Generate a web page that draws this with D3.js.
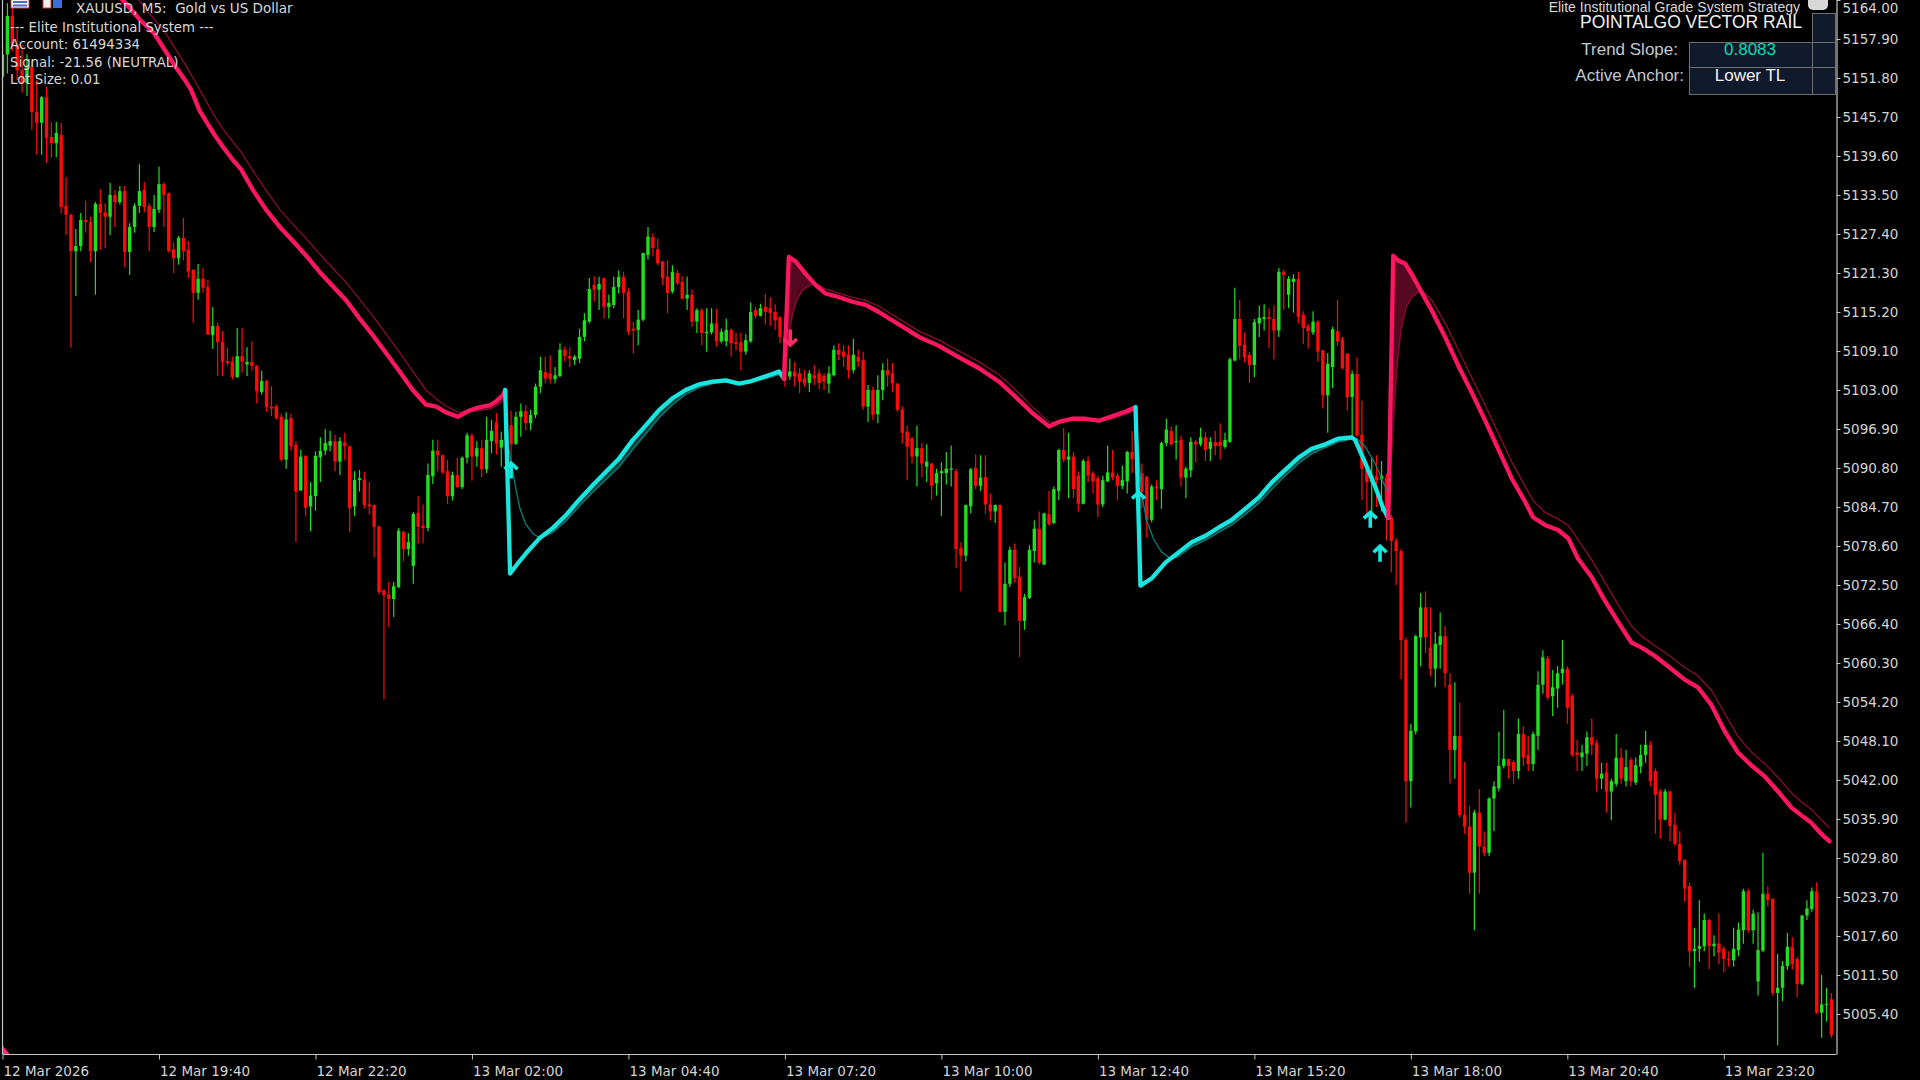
<!DOCTYPE html>
<html><head><meta charset="utf-8">
<script src="https://cdn.jsdelivr.net/npm/d3@7"></script>
<style>html,body{margin:0;padding:0;background:#000;overflow:hidden}text{white-space:pre}</style>
</head><body><svg id="chart" width="1920" height="1080"></svg>
<script>
// ---------------- DATA ----------------
const opens=[5152.0,5155.5,5161.5,5157.0,5153.0,5151.0,5153.5,5146.5,5144.8,5148.8,
5142.6,5141.6,5142.9,5131.8,5130.4,5124.7,5125.5,5129.6,5129.3,5124.7,
5132.1,5130.8,5130.1,5133.5,5132.4,5134.1,5124.6,5128.5,5131.8,5134.3,
5131.8,5128.5,5131.2,5135.2,5133.8,5125.0,5123.6,5126.8,5124.9,5121.8,
5118.2,5120.4,5119.1,5111.6,5113.0,5110.5,5107.5,5107.4,5105.0,5108.3,
5107.0,5107.4,5106.8,5102.7,5104.4,5100.4,5100.4,5098.8,5092.1,5098.6,
5094.4,5087.3,5092.7,5084.8,5086.4,5092.5,5093.5,5094.3,5095.0,5091.8,
5094.8,5094.2,5084.8,5088.9,5088.9,5085.1,5085.0,5081.6,5071.7,5071.0,
5070.3,5072.2,5080.8,5078.1,5075.5,5083.8,5081.8,5081.4,5089.5,5093.5,
5092.8,5090.3,5086.4,5089.7,5087.8,5092.4,5095.9,5092.6,5093.9,5090.6,
5095.0,5097.9,5094.0,5095.2,5097.5,5094.6,5098.8,5099.7,5097.8,5099.1,
5103.5,5105.8,5105.6,5104.7,5105.2,5109.3,5108.3,5107.7,5107.9,5111.3,
5113.7,5119.4,5118.7,5120.5,5116.0,5116.3,5119.1,5120.7,5118.4,5112.6,
5112.4,5114.0,5124.1,5126.9,5125.0,5123.1,5120.7,5118.4,5121.3,5119.9,
5117.3,5117.9,5113.7,5115.5,5111.9,5112.0,5113.4,5110.6,5110.6,5112.4,
5110.5,5110.5,5109.0,5110.6,5115.5,5114.6,5116.0,5115.8,5115.2,5114.4,
5111.3,5105.1,5105.9,5105.6,5104.8,5104.1,5105.3,5105.6,5105.2,5104.0,
5105.3,5109.3,5109.0,5108.5,5106.1,5108.2,5107.7,5100.4,5103.0,5099.2,
5103.0,5106.1,5105.6,5104.0,5099.9,5096.5,5095.4,5092.6,5093.9,5091.0,
5091.5,5088.4,5090.0,5090.0,5090.5,5090.3,5078.3,5077.1,5084.8,5090.8,
5088.0,5089.4,5085.1,5084.0,5085.0,5068.3,5072.7,5078.0,5073.8,5066.9,
5070.5,5077.8,5081.3,5075.7,5083.6,5082.2,5087.2,5093.6,5092.1,5092.6,
5089.6,5085.2,5091.9,5090.0,5089.2,5085.1,5088.7,5090.1,5089.6,5088.0,
5088.7,5093.3,5093.1,5090.0,5089.4,5082.7,5087.9,5087.5,5094.7,5096.6,
5094.8,5095.2,5089.3,5090.4,5094.9,5094.5,5095.6,5093.8,5094.8,5094.9,
5094.1,5094.9,5107.6,5114.1,5110.1,5108.5,5106.9,5113.4,5114.1,5114.4,
5114.1,5112.3,5121.5,5117.9,5119.9,5120.4,5114.8,5113.0,5112.0,5113.7,
5109.2,5102.2,5106.6,5112.2,5110.9,5108.7,5101.9,5105.5,5096.0,5090.5,
5088.6,5089.6,5089.0,5089.3,5083.1,5079.4,5077.8,5063.9,5041.8,5049.6,
5064.3,5069.0,5062.7,5059.4,5063.1,5064.5,5056.9,5046.7,5048.9,5036.6,
5034.7,5027.5,5036.9,5031.6,5030.6,5039.1,5040.7,5044.2,5045.3,5044.8,
5043.4,5049.2,5045.9,5044.5,5048.9,5056.9,5061.0,5055.1,5056.3,5058.7,
5059.4,5055.1,5046.3,5045.6,5046.1,5048.7,5047.8,5042.2,5043.2,5040.2,
5041.4,5045.5,5041.8,5045.1,5041.6,5044.1,5045.9,5047.5,5043.4,5040.2,
5035.8,5040.2,5035.0,5032.0,5029.5,5025.4,5015.2,5015.6,5016.0,5020.1,
5016.0,5016.4,5015.6,5014.0,5013.8,5015.4,5018.5,5024.6,5018.5,5010.5,
5015.3,5024.2,5023.4,5008.7,5009.5,5012.9,5015.9,5014.0,5010.1,5020.8,
5021.8,5024.6,5005.6,5006.9,5007.7];
const highs=[5157.0,5163.5,5164.5,5159.5,5157.0,5155.5,5154.5,5151.5,5149.0,5150.4,
5144.9,5144.9,5144.8,5136.3,5130.6,5128.2,5130.7,5132.6,5130.1,5132.4,
5134.4,5132.2,5135.4,5134.3,5134.9,5134.9,5129.1,5132.2,5138.3,5135.5,
5132.2,5133.5,5137.9,5135.5,5133.9,5126.1,5127.1,5129.9,5126.3,5121.9,
5122.7,5122.1,5120.2,5116.0,5113.5,5112.2,5109.6,5108.2,5112.7,5112.7,
5109.7,5110.6,5106.9,5106.0,5104.6,5103.6,5100.7,5099.3,5099.5,5099.3,
5095.0,5093.7,5092.8,5088.6,5093.4,5095.6,5096.9,5096.6,5096.0,5095.6,
5096.3,5094.3,5090.3,5090.5,5090.2,5088.6,5085.1,5081.9,5071.8,5073.0,
5073.0,5081.4,5081.0,5080.6,5083.9,5086.4,5085.1,5091.5,5095.2,5095.2,
5092.9,5092.1,5090.2,5092.4,5092.6,5096.3,5096.2,5095.0,5095.2,5098.8,
5098.3,5099.4,5096.5,5103.0,5099.8,5099.6,5100.9,5100.6,5099.9,5104.0,
5108.2,5108.2,5108.4,5106.6,5110.3,5109.8,5109.7,5108.5,5112.6,5115.0,
5120.5,5120.8,5120.7,5120.6,5117.9,5120.7,5121.7,5121.5,5118.9,5113.7,
5115.5,5124.5,5128.5,5127.5,5126.7,5123.2,5123.3,5122.5,5121.8,5120.8,
5120.7,5118.7,5115.8,5115.8,5115.8,5115.8,5115.7,5112.6,5114.2,5112.6,
5111.9,5111.9,5111.7,5116.7,5116.0,5116.5,5118.0,5117.5,5116.4,5114.5,
5112.0,5107.9,5107.4,5106.4,5106.1,5106.1,5106.9,5106.2,5105.6,5106.7,
5110.0,5110.3,5110.0,5110.0,5111.0,5109.3,5109.0,5103.8,5103.5,5105.3,
5107.2,5107.9,5107.2,5104.1,5100.4,5097.4,5095.7,5097.4,5094.7,5094.5,
5091.6,5090.7,5091.7,5093.3,5094.3,5090.7,5079.2,5085.1,5090.8,5092.9,
5092.8,5092.8,5086.8,5085.1,5085.1,5076.0,5078.5,5079.0,5075.3,5071.1,
5078.7,5082.6,5084.0,5083.8,5087.2,5087.9,5093.8,5097.0,5096.3,5093.3,
5090.3,5092.2,5092.6,5090.3,5089.6,5089.6,5094.3,5093.6,5090.0,5091.2,
5093.5,5096.6,5096.6,5091.5,5089.6,5088.2,5088.9,5094.9,5098.5,5097.3,
5097.5,5095.9,5091.0,5095.6,5095.2,5097.1,5096.4,5095.6,5096.6,5097.8,
5096.3,5108.1,5119.0,5117.1,5112.0,5109.0,5114.1,5116.2,5116.4,5115.8,
5116.2,5122.1,5121.8,5120.8,5121.1,5121.5,5115.3,5113.4,5115.3,5113.9,
5109.3,5108.8,5112.9,5117.1,5111.3,5108.8,5106.0,5108.1,5101.3,5090.7,
5092.4,5092.8,5091.9,5089.9,5083.5,5079.8,5078.2,5064.3,5050.8,5064.7,
5071.2,5071.5,5069.0,5065.1,5068.2,5066.1,5058.7,5057.3,5054.1,5044.8,
5037.9,5037.3,5040.6,5034.0,5039.3,5041.8,5049.6,5053.0,5045.3,5045.1,
5051.6,5050.4,5048.9,5049.6,5059.0,5062.3,5061.4,5059.2,5059.8,5063.9,
5059.8,5055.5,5048.3,5047.5,5049.6,5051.6,5048.3,5044.7,5044.7,5042.2,
5049.2,5047.1,5046.7,5045.5,5045.5,5047.5,5049.7,5048.1,5043.8,5040.6,
5040.6,5040.3,5036.9,5034.0,5029.6,5025.9,5018.9,5023.2,5021.1,5020.3,
5017.7,5021.1,5016.0,5015.2,5018.9,5019.7,5025.0,5025.0,5021.7,5021.3,
5030.6,5025.4,5023.5,5014.8,5013.7,5018.1,5017.4,5014.4,5020.9,5023.2,
5025.2,5026.0,5011.5,5009.5,5008.7];
const lows=[5150.0,5152.5,5156.0,5151.5,5149.5,5149.0,5143.7,5139.8,5139.8,5138.5,
5139.3,5139.4,5130.7,5127.2,5109.6,5117.7,5124.7,5127.6,5123.0,5117.9,
5124.9,5125.2,5127.2,5128.5,5132.0,5122.2,5121.0,5127.6,5130.7,5130.8,
5124.7,5127.7,5130.7,5128.5,5124.5,5121.3,5122.6,5123.3,5120.5,5113.5,
5117.1,5118.2,5111.6,5109.4,5105.2,5105.2,5106.8,5104.6,5104.9,5105.7,
5105.2,5106.0,5100.9,5102.3,5099.6,5098.9,5098.4,5091.8,5090.7,5093.5,
5079.2,5087.2,5083.2,5080.9,5084.1,5088.6,5092.8,5093.4,5090.3,5089.7,
5092.0,5080.8,5083.3,5087.1,5084.5,5083.5,5076.8,5071.0,5054.6,5065.9,
5067.5,5072.0,5076.2,5077.1,5072.7,5079.0,5079.0,5080.9,5088.3,5090.3,
5089.9,5085.2,5085.7,5087.7,5087.5,5091.5,5088.8,5091.0,5089.4,5090.0,
5093.1,5092.9,5091.0,5091.8,5090.5,5094.4,5095.7,5096.7,5096.7,5098.6,
5102.5,5104.0,5104.0,5104.0,5105.0,5107.4,5106.6,5106.9,5107.2,5110.6,
5113.4,5116.8,5115.5,5114.2,5114.2,5115.8,5118.1,5114.2,5111.6,5108.7,
5110.0,5113.7,5123.4,5123.9,5122.5,5119.4,5115.0,5118.1,5119.4,5117.1,
5115.5,5112.9,5111.9,5110.0,5109.0,5111.7,5109.8,5110.3,5109.8,5108.2,
5109.2,5106.1,5108.5,5110.4,5114.2,5114.5,5113.2,5113.0,5112.4,5110.3,
5103.5,5104.6,5103.5,5102.5,5103.5,5102.7,5103.8,5103.1,5103.0,5102.5,
5105.1,5107.7,5106.6,5104.8,5105.6,5106.6,5099.9,5098.0,5098.3,5097.8,
5101.4,5103.5,5102.7,5099.6,5094.6,5088.9,5091.5,5087.9,5089.4,5088.6,
5085.8,5086.5,5083.3,5088.2,5087.9,5075.2,5071.5,5076.2,5083.7,5087.5,
5087.2,5083.7,5082.6,5082.2,5068.2,5066.2,5072.2,5072.9,5061.2,5065.5,
5070.3,5076.0,5075.7,5075.6,5081.8,5082.0,5085.8,5091.7,5086.1,5086.1,
5084.0,5085.1,5088.6,5086.8,5083.1,5084.7,5088.6,5088.9,5085.8,5087.5,
5086.8,5090.0,5088.9,5084.5,5079.9,5082.3,5085.8,5084.4,5094.2,5094.2,
5092.1,5087.9,5086.1,5089.3,5091.7,5094.2,5091.9,5091.9,5092.8,5092.1,
5093.8,5094.7,5107.5,5107.8,5107.3,5104.1,5105.0,5111.3,5112.3,5109.5,
5107.8,5111.3,5115.5,5115.8,5115.1,5113.4,5110.2,5109.5,5111.6,5107.4,
5100.1,5096.3,5103.3,5109.9,5106.2,5099.8,5095.6,5095.6,5085.8,5083.3,
5083.7,5084.7,5084.0,5079.5,5074.5,5072.5,5057.8,5035.3,5037.7,5049.1,
5059.8,5061.8,5058.2,5056.5,5059.4,5056.5,5041.4,5042.2,5036.1,5033.6,
5024.2,5018.5,5024.2,5030.1,5030.1,5034.0,5040.2,5043.8,5042.2,5041.4,
5042.2,5044.2,5043.4,5043.4,5046.7,5055.5,5054.5,5052.0,5053.3,5056.9,
5050.8,5045.6,5043.4,5043.4,5044.2,5045.9,5040.2,5040.6,5036.9,5035.7,
5041.0,5041.4,5041.0,5041.0,5041.2,5043.0,5044.7,5041.0,5033.6,5032.8,
5035.7,5032.4,5031.6,5028.7,5023.0,5012.8,5009.5,5013.6,5015.2,5012.4,
5014.4,5013.2,5011.9,5012.8,5012.8,5014.4,5016.4,5018.1,5016.4,5008.3,
5015.1,5022.2,5008.3,5000.5,5007.4,5012.3,5012.3,5008.0,5009.9,5020.1,
5021.4,5005.4,5001.7,5004.2,5001.7];
const closes=[5155.5,5161.5,5157.0,5153.0,5151.0,5153.5,5146.5,5144.8,5148.8,5142.4,
5141.6,5143.2,5131.6,5130.4,5124.7,5125.5,5129.6,5129.3,5124.7,5132.1,
5130.7,5130.1,5133.5,5132.4,5134.1,5124.6,5128.5,5131.8,5134.1,5131.6,
5128.5,5131.3,5135.2,5133.5,5124.7,5123.6,5126.8,5124.7,5121.5,5118.2,
5120.4,5119.0,5111.7,5113.0,5110.5,5107.4,5107.2,5105.0,5108.3,5107.4,
5107.4,5106.8,5102.8,5104.4,5100.3,5100.1,5098.6,5092.1,5098.4,5094.2,
5087.1,5092.6,5084.6,5086.5,5092.7,5093.5,5094.7,5095.0,5091.8,5095.0,
5094.2,5084.5,5088.9,5089.2,5085.0,5084.8,5081.6,5071.4,5070.9,5070.3,
5072.3,5081.0,5078.1,5079.2,5083.6,5081.6,5081.4,5089.7,5093.5,5092.8,
5090.1,5086.4,5089.7,5087.8,5092.4,5095.9,5092.6,5093.9,5090.6,5095.2,
5096.6,5094.6,5095.2,5098.0,5094.5,5098.8,5099.7,5097.8,5099.1,5103.5,
5106.1,5104.8,5104.7,5105.3,5109.3,5108.3,5107.9,5108.2,5111.3,5113.9,
5118.8,5118.7,5119.6,5116.0,5116.6,5119.1,5120.7,5118.2,5112.1,5112.3,
5114.0,5124.4,5127.0,5125.2,5122.8,5120.5,5118.2,5121.5,5119.7,5117.3,
5117.9,5113.7,5115.5,5111.9,5112.1,5113.4,5110.6,5112.1,5112.4,5110.3,
5110.2,5109.0,5110.8,5115.2,5114.6,5115.8,5115.2,5115.0,5113.9,5111.3,
5104.5,5105.9,5105.1,5104.3,5104.0,5105.6,5104.8,5104.1,5104.3,5105.6,
5109.3,5108.5,5108.2,5106.1,5108.5,5107.4,5100.4,5103.0,5099.1,5103.0,
5106.1,5105.3,5104.0,5099.9,5096.3,5094.1,5092.6,5093.9,5091.5,5091.8,
5088.0,5090.0,5090.3,5090.7,5090.7,5078.1,5077.1,5085.0,5090.6,5088.0,
5089.3,5085.1,5084.0,5085.0,5068.3,5072.7,5078.0,5073.6,5066.9,5070.6,
5078.0,5081.3,5076.0,5083.7,5082.0,5087.5,5093.6,5092.1,5092.6,5087.5,
5085.2,5091.9,5089.6,5088.7,5085.1,5088.9,5090.1,5089.3,5088.0,5088.9,
5093.3,5092.2,5090.0,5087.0,5082.7,5087.9,5087.6,5094.7,5096.8,5094.5,
5095.0,5089.3,5090.7,5094.9,5094.5,5095.6,5093.6,5094.9,5094.2,5094.2,
5095.2,5107.8,5114.1,5109.9,5108.1,5106.9,5113.6,5114.3,5114.4,5114.1,
5112.3,5121.5,5121.0,5120.4,5120.4,5114.4,5112.7,5112.2,5113.7,5109.0,
5102.2,5107.1,5112.5,5110.6,5106.4,5101.9,5105.5,5095.9,5090.7,5088.6,
5089.6,5088.9,5089.6,5083.0,5079.4,5077.8,5063.9,5041.8,5049.7,5064.5,
5069.0,5064.3,5059.4,5063.3,5064.5,5058.7,5046.7,5048.9,5036.5,5034.7,
5027.5,5036.9,5031.6,5030.6,5039.1,5041.0,5044.2,5045.3,5044.2,5043.4,
5049.2,5045.5,5044.5,5049.2,5056.9,5061.2,5054.9,5056.5,5058.7,5059.4,
5053.3,5045.9,5045.9,5046.3,5048.7,5047.5,5042.2,5043.0,5040.2,5041.8,
5045.5,5042.2,5044.0,5041.8,5044.3,5045.9,5047.5,5041.8,5039.7,5035.8,
5040.2,5034.8,5032.0,5029.3,5025.0,5015.2,5015.6,5016.0,5020.1,5016.0,
5016.4,5015.0,5014.0,5013.8,5015.6,5018.6,5024.6,5018.5,5021.1,5015.4,
5024.2,5023.2,5008.7,5009.5,5012.9,5015.9,5013.2,5010.1,5020.8,5021.9,
5024.6,5005.6,5006.9,5007.0,5002.1];

const yTickValues=[5164.0,5157.9,5151.8,5145.7,5139.6,5133.5,5127.4,5121.3,5115.2,5109.1,5103.0,5096.9,5090.8,5084.7,5078.6,5072.5,5066.4,5060.3,5054.2,5048.1,5042.0,5035.9,5029.8,5023.7,5017.6,5011.5,5005.4];
const xTickBars=[0,32,64,96,128,160,192,224,256,288,320,352];
const xTickLabels=["12 Mar 2026","12 Mar 19:40","12 Mar 22:20","13 Mar 02:00","13 Mar 04:40","13 Mar 07:20","13 Mar 10:00","13 Mar 12:40","13 Mar 15:20","13 Mar 18:00","13 Mar 20:40","13 Mar 23:20"];

// rail series: [bar, price]
const upperRailA=[[24,5164.5],[28,5161],[31,5158.8],[35,5154],[37.3,5151.5],[38.6,5149.9],[40.3,5146.7],[43.1,5143.2],[45.1,5141.0],[47.1,5139.0],[48.8,5137.5],[51.2,5134.3],[54.0,5131.1],[56.7,5128.5],[59.4,5126.3],[62.1,5124.0],[64.8,5121.5],[67.6,5119.2],[70.3,5117.0],[73.0,5114.2],[75.7,5111.6],[78.5,5108.7],[81.2,5105.9],[83.9,5103.0],[86.6,5100.7],[88.7,5100.4],[90.7,5099.5],[93.1,5098.8],[95.5,5099.8],[97.5,5100.3],[99.6,5100.6],[100.9,5101.2],[102.3,5102.2],[102.8,5103.0]];
const upperSignalA=[[26,5166.0],[29,5162.8],[33,5159.2],[37.3,5154.0],[40.3,5150.0],[43.1,5146.2],[45.1,5143.8],[47.1,5141.8],[48.8,5140.2],[51.2,5137.3],[54.0,5134.1],[56.7,5131.2],[59.4,5128.9],[62.1,5126.7],[64.8,5124.3],[67.6,5122.0],[70.3,5119.8],[73.0,5117.2],[75.7,5114.6],[78.5,5111.7],[81.2,5108.9],[83.9,5105.9],[86.6,5103.0],[88.7,5101.6],[90.7,5100.5],[93.1,5099.5],[95.5,5099.6],[97.5,5099.8],[99.6,5100.0],[100.9,5100.5],[102.3,5101.3],[102.8,5101.8]];
const lowerRailB=[[102.8,5103.0],[103.8,5074.3],[105.4,5075.9],[107.1,5077.5],[109.8,5079.8],[112.5,5081.4],[115.2,5083.4],[117.9,5085.8],[120.7,5088.1],[123.4,5090.2],[126.1,5092.3],[128.9,5095.2],[131.6,5097.5],[134.3,5099.9],[137.0,5101.7],[139.7,5103.0],[142.5,5103.9],[145.2,5104.3],[147.9,5104.5],[150.6,5104.0],[152.7,5104.3],[154.7,5104.8],[157.4,5105.5],[158.8,5105.9],[159.8,5104.8]];
const lowerSignalB=[[102.9,5100.0],[103.5,5094.0],[104.3,5090.5],[105.0,5087.5],[105.8,5084.5],[107.0,5082.0],[108.5,5080.5],[110.0,5079.8],[112.5,5080.7],[115.2,5082.5],[117.9,5084.8],[120.7,5087.0],[123.4,5089.0],[126.1,5091.0],[128.9,5093.7],[131.6,5096.2],[134.3,5098.7],[137.0,5100.7],[139.7,5102.3],[142.5,5103.4],[145.2,5104.0],[147.9,5104.3],[150.6,5104.1],[152.7,5104.1],[154.7,5104.5],[157.4,5105.1],[159.0,5105.5],[159.8,5104.8]];
const upperRailC=[[159.8,5104.8],[160.8,5123.8],[162.2,5123.1],[164.2,5121.2],[166.3,5119.4],[168.3,5118.1],[171.1,5117.5],[173.8,5116.8],[176.5,5116.3],[179.2,5115.2],[181.9,5113.9],[184.7,5112.6],[187.4,5111.3],[191.5,5109.9],[195.6,5108.1],[199.7,5106.4],[203.8,5104.3],[207.2,5101.9],[210.6,5099.4],[214.0,5097.3],[216.0,5098.0],[218.7,5098.5],[221.5,5098.5],[224.2,5098.2],[226.9,5098.9],[229.6,5099.6],[231.7,5100.3]];
const upperSignalC=[[160.0,5104.8],[160.4,5108.5],[160.9,5112.0],[161.6,5115.0],[162.4,5117.0],[163.5,5118.5],[164.8,5119.3],[166.3,5119.7],[168.3,5118.8],[171.1,5118.1],[173.8,5117.5],[176.5,5117.0],[179.2,5116.1],[181.9,5114.8],[184.7,5113.5],[187.4,5112.2],[191.5,5110.8],[195.6,5109.1],[199.7,5107.4],[203.8,5105.4],[207.2,5103.0],[210.6,5100.4],[214.0,5098.0],[216.0,5097.9],[218.7,5098.2],[221.5,5098.3],[224.2,5098.1],[226.9,5098.5],[229.6,5099.2],[231.7,5099.8]];
const lowerRailD=[[231.7,5100.3],[232.7,5072.4],[235.1,5073.6],[237.8,5076.0],[240.5,5077.6],[243.2,5079.2],[246.0,5080.2],[248.7,5081.5],[251.4,5082.7],[254.1,5084.4],[256.9,5086.2],[259.6,5088.6],[262.3,5090.5],[265.0,5092.4],[267.7,5093.8],[270.5,5094.5],[273.2,5095.4],[275.9,5095.6],[276.6,5095.2],[278.6,5091.7],[280.7,5087.9],[282.4,5084.4],[283.4,5083.0]];
const lowerSignalD=[[231.8,5099.0],[232.3,5093.0],[233.0,5086.5],[234.0,5082.5],[235.5,5079.5],[237.0,5077.7],[238.5,5076.8],[240.0,5076.8],[240.5,5077.0],[243.2,5078.5],[246.0,5079.5],[248.7,5080.7],[251.4,5081.9],[254.1,5083.5],[256.9,5085.3],[259.6,5087.5],[262.3,5089.6],[265.0,5091.5],[267.7,5093.0],[270.5,5094.0],[273.2,5094.9],[275.9,5095.3],[277.0,5095.4],[278.6,5094.2],[280.7,5091.5],[282.4,5088.5],[283.4,5086.8]];
const upperRailE=[[283.4,5083.0],[284.4,5124.0],[285.5,5123.2],[286.8,5122.8],[288.2,5121.1],[290.2,5118.3],[292.3,5115.4],[295.0,5111.3],[297.7,5106.8],[300.4,5102.7],[303.2,5098.2],[305.9,5093.7],[308.6,5089.2],[311.3,5085.6],[313.0,5083.1],[315.4,5081.9],[318.1,5081.1],[320.2,5079.8],[322.2,5076.6],[325.0,5073.7],[327.7,5070.0],[330.4,5066.7],[333.1,5063.5],[335.2,5062.7],[337.9,5061.4],[340.6,5059.8],[344.0,5057.7],[346.7,5056.5],[349.5,5053.7],[352.2,5049.6],[354.9,5046.3],[357.6,5044.3],[360.3,5042.6],[363.1,5040.2],[365.8,5037.7],[367.8,5036.5],[369.9,5035.3],[371.9,5033.6],[373.6,5032.4]];
const upperSignalE=[[283.5,5083.0],[284.0,5092.0],[284.6,5100.0],[285.2,5107.0],[286.0,5112.5],[287.0,5115.8],[288.2,5117.5],[289.5,5118.3],[290.5,5118.4],[292.3,5117.0],[295.0,5113.5],[297.7,5109.3],[300.4,5105.0],[303.2,5100.6],[305.9,5096.2],[308.6,5091.8],[311.3,5088.0],[313.0,5085.7],[315.4,5083.9],[318.1,5082.8],[320.2,5081.8],[322.2,5079.6],[325.0,5076.4],[327.7,5072.9],[330.4,5069.4],[333.1,5066.1],[335.2,5064.5],[337.9,5063.0],[340.6,5061.6],[344.0,5059.6],[346.7,5058.3],[349.5,5056.0],[352.2,5052.4],[354.9,5048.8],[357.6,5046.4],[360.3,5044.6],[363.1,5042.4],[365.8,5040.0],[367.8,5038.6],[369.9,5037.4],[371.9,5035.8],[373.6,5034.5]];

const upArrows=[[104.0,5091.8],[232.3,5087.2],[279.7,5084.1],[281.7,5078.8]];
const downArrows=[[161.1,5109.8]];

const infoLines=["--- Elite Institutional System ---","Account: 61494334","Signal: -21.56 (NEUTRAL)","Lot Size: 0.01"];
const chartTitle="XAUUSD, M5:  Gold vs US Dollar";
const stratTitle="Elite Institutional Grade System Strategy";
const panelTitle="POINTALGO VECTOR RAIL";
const panelKeys=["Trend Slope:","Active Anchor:"];
const panelValues=["0.8083","Lower TL"];

// ---------------- DRAW ----------------
const BULL="#1fe01f", BEAR="#ff0a0a";
const svg=d3.select('#chart');
svg.append('rect').attr('width',1920).attr('height',1080).attr('fill','#000');
const x=d3.scaleLinear().domain([0,374]).range([2.5,1831.4]);
const y=d3.scaleLinear().domain([4999.14,5164.0]).range([1054,0]);

const defs=svg.append('defs');
defs.append('clipPath').attr('id','plotclip').append('rect')
  .attr('x',3).attr('y',0).attr('width',1833).attr('height',1054);
const plot=svg.append('g').attr('clip-path','url(#plotclip)');

const candles=d3.range(opens.length).map(i=>({i,o:opens[i],h:highs[i],l:lows[i],c:closes[i]}));
const cg=plot.append('g');
cg.selectAll('line').data(candles).join('line')
  .attr('x1',d=>x(d.i)).attr('x2',d=>x(d.i))
  .attr('y1',d=>y(d.h)).attr('y2',d=>y(d.l))
  .attr('stroke',d=>d.c>=d.o?BULL:BEAR).attr('stroke-width',1.2);
cg.selectAll('rect').data(candles).join('rect')
  .attr('x',d=>x(d.i)-1.7).attr('width',3.4)
  .attr('y',d=>y(Math.max(d.o,d.c)))
  .attr('height',d=>Math.max(1.2,Math.abs(y(d.o)-y(d.c))))
  .attr('fill',d=>d.c>=d.o?BULL:BEAR);

const line=d3.line().x(d=>x(d[0])).y(d=>y(d[1]));
const styles={
  up:{fill:"#560822",thin:"#8a0c32",thick:"#ff1660"},
  low:{fill:"#0a3f3d",thin:"#0b807a",thick:"#19e6e0"}
};
const rails=[
  {thick:upperRailA,thin:upperSignalA,s:styles.up},
  {thick:lowerRailB,thin:lowerSignalB,s:styles.low},
  {thick:upperRailC,thin:upperSignalC,s:styles.up},
  {thick:lowerRailD,thin:lowerSignalD,s:styles.low},
  {thick:upperRailE,thin:upperSignalE,s:styles.up}
];
const rg=plot.append('g');
rails.forEach((r,k)=>{
  // fill only where the rail sits above its signal line
  const first=r.thick[0], last=r.thick[r.thick.length-1];
  defs.append('clipPath').attr('id','fc'+k).append('path')
    .attr('d',line(r.thick)+`L${x(last[0])},1060L${x(first[0])},1060Z`);
  rg.append('path').attr('d',line(r.thick.concat(r.thin.slice().reverse()))+'Z')
    .attr('fill',r.s.fill).attr('stroke','none').attr('clip-path',`url(#fc${k})`);
});
rails.forEach(r=>{
  rg.append('path').attr('d',line(r.thin)).attr('fill','none')
    .attr('stroke',r.s.thin).attr('stroke-width',1.3);
});
rails.forEach(r=>{
  rg.append('path').attr('d',line(r.thick)).attr('fill','none')
    .attr('stroke',r.s.thick).attr('stroke-width',4.3)
    .attr('stroke-linejoin','round').attr('stroke-linecap','round');
});

const ag=plot.append('g');
ag.selectAll('path.up').data(upArrows).join('path').attr('class','up')
  .attr('transform',d=>`translate(${x(d[0])},${y(d[1])})`)
  .attr('d','M-6.5,7.5 L0,1.5 L6.5,7.5 M0,2 L0,17')
  .attr('fill','none').attr('stroke','#16e8e0').attr('stroke-width',3.6);
ag.selectAll('path.dn').data(downArrows).join('path').attr('class','dn')
  .attr('transform',d=>`translate(${x(d[0])},${y(d[1])})`)
  .attr('d','M-6.5,-7.5 L0,-1.5 L6.5,-7.5 M0,-2 L0,-17')
  .attr('fill','none').attr('stroke','#ff2a68').attr('stroke-width',3.6);

// frame
const AX="#c4c4c4";
svg.append('line').attr('x1',2.5).attr('x2',2.5).attr('y1',0).attr('y2',1054).attr('stroke',AX).attr('stroke-width',1.2);
svg.append('line').attr('x1',2.5).attr('x2',1836.5).attr('y1',1054.5).attr('y2',1054.5).attr('stroke',AX).attr('stroke-width',1.2);
svg.append('polygon').attr('points','3,1046 3,1054 9.5,1054').attr('fill','#ff2a80');

const yAxis=d3.axisRight(y).tickValues(yTickValues).tickFormat(d=>d.toFixed(2)).tickSize(4).tickSizeOuter(0).tickPadding(2);
const gy=svg.append('g').attr('transform','translate(1836.5,0)').call(yAxis);
gy.select('.domain').attr('stroke',AX).attr('stroke-width',1.2);
gy.selectAll('.tick line').attr('stroke',AX);
gy.selectAll('.tick text').attr('fill','#d4d4d4').attr('font-family','DejaVu Sans').attr('font-size','13.5px')
  .attr('dy',(d,i)=>i===0?'0.95em':'0.32em');

const xAxis=d3.axisBottom(x).tickValues(xTickBars).tickFormat((d,i)=>xTickLabels[i]).tickSize(5).tickSizeOuter(0).tickPadding(7);
const gx=svg.append('g').attr('transform','translate(0,1054.5)').call(xAxis);
gx.select('.domain').remove();
gx.selectAll('.tick line').attr('stroke',AX);
gx.selectAll('.tick text').attr('fill','#d4d4d4').attr('font-family','DejaVu Sans').attr('font-size','13.5px')
  .attr('text-anchor','start').attr('dx',0.5);

// header icons
const ic=svg.append('g');
ic.append('rect').attr('x',11).attr('y',-2).attr('width',18).attr('height',10).attr('fill','#f4f4f4').attr('stroke','#d04040');
ic.append('rect').attr('x',13).attr('y',1).attr('width',14).attr('height',2).attr('fill','#4a6ad0');
ic.append('rect').attr('x',13).attr('y',4.5).attr('width',14).attr('height',2).attr('fill','#4a6ad0');
ic.append('rect').attr('x',43).attr('y',-2).attr('width',8).attr('height',10).attr('fill','#f0f0f0').attr('stroke','#d04040');
ic.append('rect').attr('x',53).attr('y',-2).attr('width',9).attr('height',10).attr('fill','#3a70d8');

const T=svg.append('g').attr('font-family','DejaVu Sans');
T.append('text').attr('x',76).attr('y',12.5).attr('font-size','13.5px').attr('fill','#d8d8d8').text(chartTitle);
T.selectAll('text.info').data(infoLines).join('text').attr('class','info')
  .attr('x',10).attr('y',(d,i)=>32+i*17.3).attr('font-size','13.3px').attr('fill','#d8d8d8').text(d=>d);

// top-right panel
const P=svg.append('g').attr('font-family','Liberation Sans');
P.append('text').attr('x',1800).attr('y',12).attr('text-anchor','end').attr('font-size','14px').attr('fill','#d8d8d8').text(stratTitle);
P.append('rect').attr('x',1808).attr('y',-4).attr('width',20).attr('height',14).attr('rx',5).attr('fill','#d8d8d8');
P.append('rect').attr('x',1812.5).attr('y',13.5).attr('width',23).attr('height',29).attr('fill','#111a2d').attr('stroke','#6e6e6e');
[[42.5,25],[67.5,27]].forEach(r=>{
  P.append('rect').attr('x',1689.5).attr('y',r[0]).attr('width',123).attr('height',r[1]).attr('fill','#111a2d').attr('stroke','#6e6e6e');
  P.append('rect').attr('x',1812.5).attr('y',r[0]).attr('width',23).attr('height',r[1]).attr('fill','#111a2d').attr('stroke','#6e6e6e');
});
P.append('text').attr('x',1802).attr('y',28).attr('text-anchor','end').attr('font-size','17.5px').attr('fill','#f0f0f0').text(panelTitle);
const keyX=[1678,1684];
P.selectAll('text.k').data(panelKeys).join('text').attr('class','k')
  .attr('x',(d,i)=>keyX[i]).attr('y',(d,i)=>55+i*25.5).attr('text-anchor','end')
  .attr('font-size','17px').attr('fill','#c2c8d0').text(d=>d);
const valCol=['#00dcb4','#f2f2f2'];
P.selectAll('text.v').data(panelValues).join('text').attr('class','v')
  .attr('x',1750).attr('y',(d,i)=>55+i*25.5).attr('text-anchor','middle')
  .attr('font-size','17px').attr('fill',(d,i)=>valCol[i]).text(d=>d);
</script>
</body></html>
